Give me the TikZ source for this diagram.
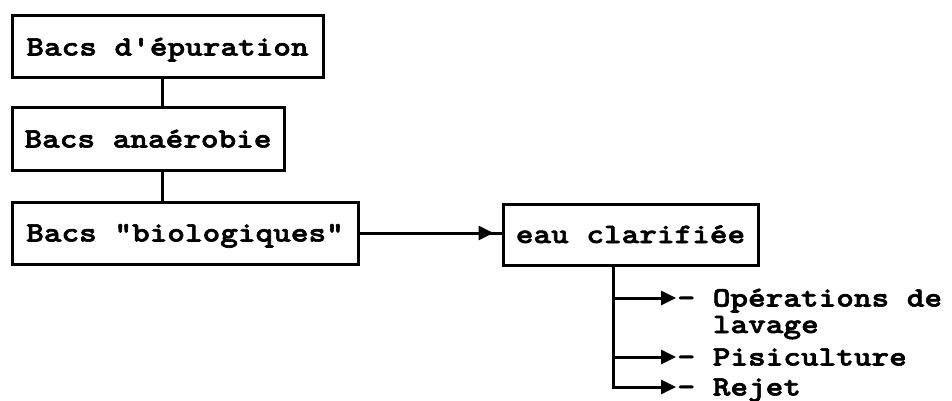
\documentclass[tikz,border=0pt]{standalone}
\usepackage{fontspec}
\newfontfamily\cour{lmmonolt10-bold}[Extension=.otf,FakeStretch=1.2,FakeBold=2.2]
\usetikzlibrary{arrows.meta,decorations.markings}
\def\tip{Triangle[length=15pt,width=14pt]}

\begin{document}
\begin{tikzpicture}[x=1pt,y=1pt,line width=3pt,
    font=\cour\fontsize{28}{26}\selectfont,
    bac/.style={draw,inner xsep=1pt,inner ysep=0pt,text height=17pt,text depth=0pt,minimum height=62pt},
    item/.style={inner sep=0pt,text height=17pt,text depth=0pt,anchor=west},
    tri/.style={-{\tip}},
    tipstub/.style={decoration={markings,mark=at position -8pt with {\arrow{\tip}}},postaction={decorate}}]
    \useasboundingbox (0,0) rectangle (952,-401);
    % the three basins
    \node[bac,minimum width=311pt] (b1) at (167.5,-47) {Bacs d'épuration};
    \node[bac,minimum width=272pt] (b2) at (148,-139) {Bacs anaérobie};
    \node[bac,minimum width=346pt] (b3) at (185,-233) {Bacs "biologiques"};
    \node[bac,minimum width=255pt,minimum height=61pt] (b4) at (630.5,-234.5) {eau clarifiée};
    \coordinate (s1) at (162,0);
    \draw (b1.south -| s1) -- (b2.north -| s1);
    \draw (b2.south -| s1) -- (b3.north -| s1);
    \draw[tipstub] (b3.east) -- (b3.east -| b4.west);
    % uses of the water
    \node[item] (op) at (676,-298) {- Opérations de};
    \node[item] (lav) at ([xshift=35.4pt,yshift=-26.5pt]op.west) {lavage};
    \node[item] (pis) at (676,-357) {- Pisiculture};
    \node[item] (rej) at (676,-387) {- Rejet};
    \coordinate (tr) at (613,0);
    \draw[tri] (b4.south -| tr) |- (op.west);
    \draw[tri] (b4.south -| tr) |- (pis.west);
    \draw[tri] (b4.south -| tr) |- (rej.west);
\end{tikzpicture}
\end{document}
